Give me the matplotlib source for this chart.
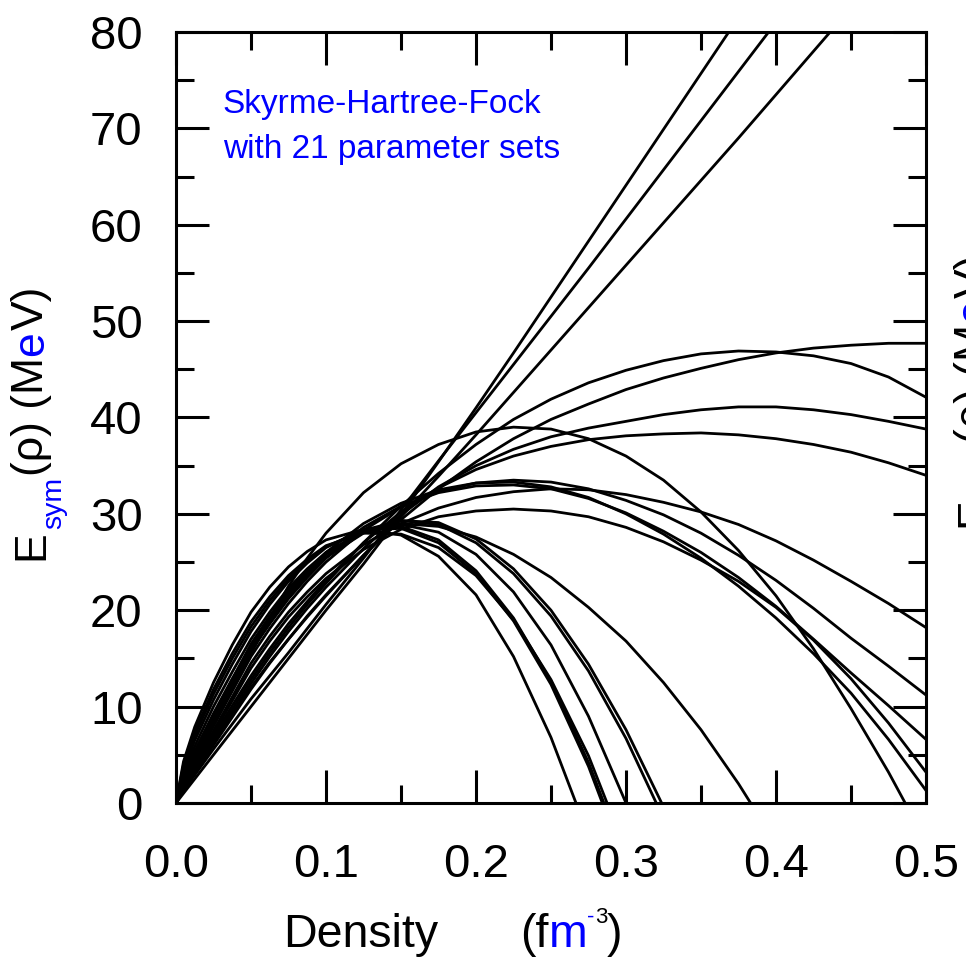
import matplotlib
matplotlib.use('Agg')
import matplotlib.pyplot as plt
from matplotlib.ticker import MultipleLocator
from matplotlib.transforms import IdentityTransform

plt.rcParams['font.family'] = ['Liberation Sans', 'DejaVu Sans']

# density grid (fm^-3), finer near the origin where the curves are steep
density = [0.0, 0.005, 0.0125, 0.025, 0.0375, 0.05, 0.0625, 0.075, 0.0875, 0.1,
           0.125, 0.15, 0.175, 0.2, 0.225, 0.25, 0.275, 0.3, 0.325, 0.35,
           0.375, 0.4, 0.425, 0.45, 0.475, 0.5]

# stiff, almost linear sets (leave the frame at the top)
line_1 = [0, 1.0, 2.5, 5.0, 7.5, 10.0, 12.5, 15.0, 17.5, 20.0,
          24.8, 29.9, 35.4, 41.0, 46.7, 52.5, 58.3, 64.1, 69.9, 75.7, 81.5]
line_2 = [0, 1.3, 2.9, 5.6, 8.2, 10.8, 13.2, 15.6, 18.1, 20.6,
          25.4, 30.4, 35.5, 40.5, 45.5, 50.5, 55.5, 60.6, 65.7, 70.8, 75.9, 81.0]
line_3 = [0, 1.7, 3.6, 6.5, 9.3, 12.0, 14.6, 17.0, 19.3, 21.5,
          25.7, 29.7, 33.9, 38.2, 42.6, 47.0, 51.4, 55.8, 60.2, 64.6, 69.0, 73.5, 78.0, 82.5]

# sets still rising or saturating at 0.5 fm^-3
upper_1 = [0, 1.3, 3.1, 6.0, 8.9, 11.8, 14.5, 17.0, 19.4, 21.6,
           25.7, 29.4, 32.6, 35.4, 37.8, 39.8, 41.4, 42.9, 44.1, 45.1, 46.0, 46.7, 47.2, 47.5, 47.7, 47.7]
upper_2 = [0, 1.5, 3.4, 6.6, 9.7, 12.8, 15.6, 18.2, 20.6, 22.8,
           27.0, 30.8, 34.2, 37.2, 39.8, 41.9, 43.6, 44.9, 45.9, 46.6, 46.9, 46.8, 46.4, 45.6, 44.2, 42.1]
upper_3 = [0, 1.3, 3.2, 6.3, 9.3, 12.4, 15.2, 17.8, 20.2, 22.4,
           26.4, 29.9, 32.8, 35.0, 36.7, 38.0, 38.9, 39.6, 40.3, 40.8, 41.1, 41.1, 40.8, 40.3, 39.6, 38.8]
upper_4 = [0, 1.6, 3.6, 6.9, 10.1, 13.2, 16.0, 18.6, 20.9, 23.1,
           27.0, 30.2, 32.7, 34.6, 36.0, 37.0, 37.7, 38.1, 38.3, 38.4, 38.2, 37.8, 37.2, 36.4, 35.3, 34.0]

# sets bending over between 0.2 and 0.25 fm^-3
peak_39 = [0, 1.8, 4.2, 8.0, 11.8, 15.5, 19.1, 22.5, 25.4, 28.0,
           32.2, 35.2, 37.2, 38.5, 39.0, 38.8, 37.8, 36.0, 33.5, 30.2, 26.2, 21.5, 16.0, 9.8, 3.2, -4.0]
mid_18 = [0, 1.7, 3.9, 7.5, 11.0, 14.5, 17.3, 19.8, 21.9, 23.8,
          26.8, 29.0, 30.6, 31.7, 32.3, 32.6, 32.5, 32.0, 31.2, 30.2, 28.9, 27.2, 25.2, 23.0, 20.7, 18.2]
mid_11 = [0, 1.9, 4.3, 8.0, 11.6, 15.2, 18.1, 20.7, 23.0, 25.0,
          28.3, 30.7, 32.3, 33.2, 33.5, 33.3, 32.6, 31.4, 29.9, 28.0, 25.7, 23.1, 20.2, 17.1, 14.2, 11.2]
mid_6 = [0, 2.1, 4.6, 8.5, 12.2, 15.8, 18.6, 21.2, 23.4, 25.4,
         28.6, 30.8, 32.2, 32.9, 33.0, 32.6, 31.6, 30.1, 28.2, 26.0, 23.4, 20.4, 17.0, 13.5, 10.1, 6.6]
mid_3 = [0, 1.6, 3.7, 7.2, 10.6, 14.0, 16.8, 19.3, 21.4, 23.3,
         26.3, 28.4, 29.7, 30.3, 30.5, 30.3, 29.7, 28.6, 27.1, 25.2, 23.0, 20.3, 16.9, 12.9, 8.3, 3.2]
mid_1 = [0, 2.3, 5.0, 9.0, 12.8, 16.5, 19.4, 22.0, 24.1, 26.0,
         29.0, 31.1, 32.5, 33.2, 33.3, 32.8, 31.7, 30.0, 27.9, 25.4, 22.5, 19.2, 15.5, 11.4, 6.6, 1.3]
zero_38 = [0, 2.0, 4.6, 8.5, 12.3, 16.0, 18.9, 21.5, 23.6, 25.5,
           28.0, 29.0, 28.7, 27.6, 25.8, 23.4, 20.3, 16.8, 12.5, 7.6, 2.0, -4.2]

# soft sets collapsing below 0.33 fm^-3
soft_1 = [0, 4.3, 7.9, 12.5, 16.4, 19.8, 22.4, 24.5, 26.1, 27.3,
          28.4, 27.8, 25.6, 21.6, 15.2, 6.8, -3.4]
soft_2 = [0, 3.7, 7.0, 11.3, 15.0, 18.3, 21.0, 23.3, 25.1, 26.6,
          28.3, 28.5, 27.0, 23.8, 18.9, 12.3, 3.8, -6.5]
soft_3 = [0, 3.4, 6.5, 10.7, 14.4, 17.8, 20.6, 23.0, 24.9, 26.5,
          28.4, 28.7, 27.3, 24.1, 19.2, 12.6, 4.2, -6.0]
soft_4 = [0, 4.0, 7.4, 11.8, 15.5, 18.8, 21.4, 23.6, 25.3, 26.7,
          28.0, 27.9, 26.5, 23.6, 19.0, 12.8, 4.9, -5.0]
soft_5 = [0, 3.0, 5.9, 10.0, 13.6, 17.0, 19.8, 22.3, 24.3, 26.0,
          28.2, 28.9, 28.1, 25.8, 21.9, 16.4, 9.0, 0.0, -10.0]
soft_6 = [0, 2.6, 5.4, 9.3, 12.9, 16.3, 19.2, 21.8, 23.9, 25.8,
          28.3, 29.3, 28.9, 27.0, 23.8, 19.4, 13.7, 6.7, -1.6]
soft_7 = [0, 2.4, 5.0, 8.8, 12.4, 15.8, 18.7, 21.4, 23.6, 25.5,
          28.1, 29.3, 29.1, 27.4, 24.3, 20.0, 14.4, 7.6, -0.4]

curves = [line_1, line_2, line_3, upper_1, upper_2, upper_3, upper_4,
          peak_39, mid_18, mid_11, mid_6, mid_3, mid_1, zero_38,
          soft_1, soft_2, soft_3, soft_4, soft_5, soft_6, soft_7]

blue = '#0000ff'

fig = plt.figure(figsize=(9.66, 9.57), dpi=100)
ax = fig.add_axes([176 / 966, 1 - 803 / 957, 750 / 966, 771 / 957])

for c in curves:
    ax.plot(density[:len(c)], c, color='black', lw=2.0, solid_joinstyle='round')

ax.set_xlim(0, 0.5)
ax.set_ylim(0, 80)
ax.xaxis.set_major_locator(MultipleLocator(0.1))
ax.xaxis.set_minor_locator(MultipleLocator(0.05))
ax.yaxis.set_major_locator(MultipleLocator(10))
ax.yaxis.set_minor_locator(MultipleLocator(5))
ax.xaxis.set_major_formatter(plt.FuncFormatter(lambda v, p: '%.1f' % v))
ax.tick_params(which='both', direction='in', top=True, right=True, width=2.2, labelsize=34)
ax.tick_params(which='major', length=24)
ax.tick_params(which='minor', length=13)
ax.tick_params(axis='x', which='major', pad=29)
ax.tick_params(axis='y', which='major', pad=24)
for s in ax.spines.values():
    s.set_linewidth(2.2)

ax.text(0.0313, 71.6, 'Skyrme-Hartree-Fock', color=blue, fontsize=24, va='baseline')
ax.text(0.0313, 66.9, 'with 21 parameter sets', color=blue, fontsize=24, va='baseline')

fig.canvas.draw()
renderer = fig.canvas.get_renderer()
pix = IdentityTransform()


def pieces_text(x, y, pieces, vertical=False, gap=1):
    # place differently coloured bits one after another (pixel coords)
    for s, color, size, rise in pieces:
        if vertical:
            t = fig.text(x - rise, y, s, color=color, fontsize=size, rotation=90,
                         rotation_mode='anchor', ha='left', va='baseline', transform=pix)
            y += t.get_window_extent(renderer).height + gap
        else:
            t = fig.text(x, y + rise, s, color=color, fontsize=size,
                         ha='left', va='baseline', transform=pix)
            x += t.get_window_extent(renderer).width + gap


# x label
fig.text(283, 957 - 947, 'Density', fontsize=33.5, ha='left', va='baseline', transform=pix)
pieces_text(520, 957 - 947, [('(f', 'black', 33.5, 0), ('m', blue, 33.5, 0),
                             ('-', blue, 16, 24), ('3', 'black', 16, 24), (')', 'black', 33.5, 0)],
            gap=0)

# y label
ylab = [('E', 'black', 32, 0), ('sym', blue, 20.5, -18), ('(ρ) (M', 'black', 32, 0),
        ('e', blue, 32, 0), ('V)', 'black', 32, 0)]
pieces_text(43, 957 - 560, ylab, vertical=True)
# label of the neighbouring panel, cut by the right edge
pieces_text(986, 957 - 527, ylab, vertical=True)

fig.savefig('out.png', dpi=100)
